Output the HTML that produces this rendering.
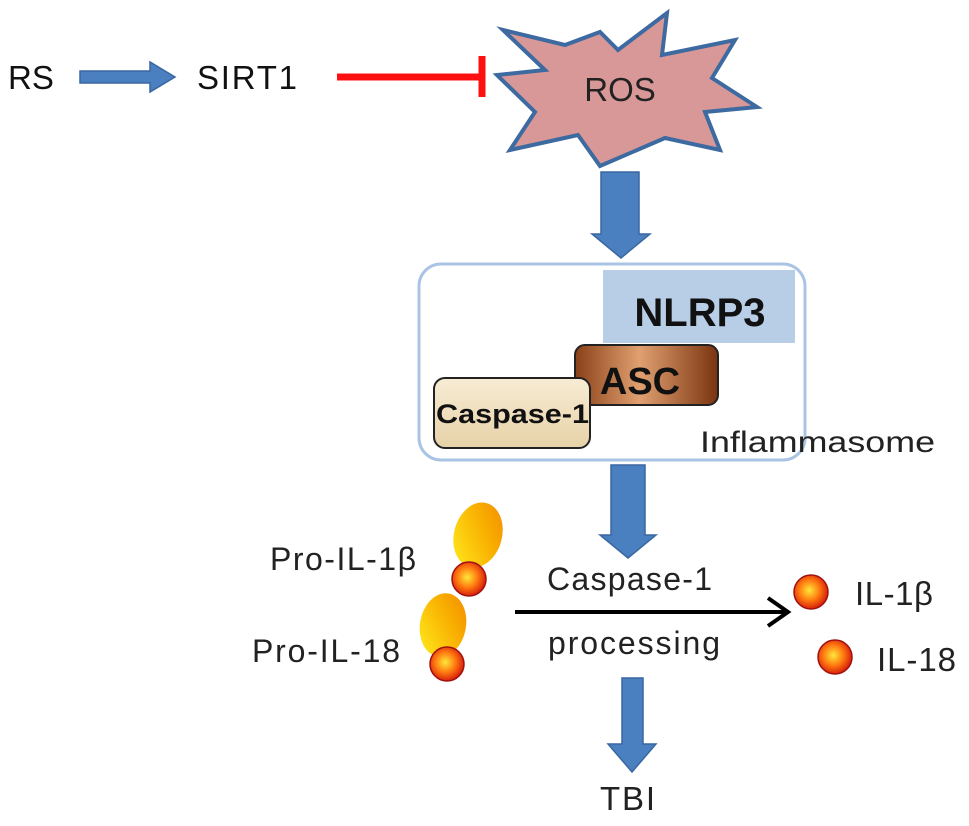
<!DOCTYPE html>
<html><head><meta charset="utf-8"><style>
html,body{margin:0;padding:0;background:#fff;}
svg{display:block;font-family:"Liberation Sans",sans-serif;}
</style></head><body>
<svg width="969" height="826" viewBox="0 0 969 826" xmlns="http://www.w3.org/2000/svg">
<defs>
<radialGradient id="ball" cx="0.45" cy="0.45" r="0.6">
<stop offset="0" stop-color="#ffe83a"/><stop offset="0.5" stop-color="#ff7a10"/><stop offset="1" stop-color="#d0100a"/>
</radialGradient>
<linearGradient id="egg" x1="0" y1="1" x2="1" y2="0">
<stop offset="0" stop-color="#ffee20"/><stop offset="0.6" stop-color="#f9b000"/><stop offset="1" stop-color="#f08a00"/>
</linearGradient>
<linearGradient id="asc" x1="0" y1="0" x2="1" y2="0">
<stop offset="0" stop-color="#8a4018"/><stop offset="0.45" stop-color="#e0a070"/><stop offset="1" stop-color="#7a3410"/>
</linearGradient>
<linearGradient id="casp" x1="0" y1="0" x2="0" y2="1">
<stop offset="0" stop-color="#f7ecd4"/><stop offset="1" stop-color="#e7d2a8"/>
</linearGradient>
</defs>
<text x="8" y="89" font-size="33" fill="#111">RS</text>
<polygon points="80,71 150,71 150,62 175,77 150,92 150,83 80,83" fill="#4a7fc0" stroke="#3a67a0" stroke-width="1.5"/>
<text x="197" y="89" font-size="33" fill="#111" textLength="100">SIRT1</text>
<line x1="337" y1="77" x2="480" y2="77" stroke="#ff1010" stroke-width="7"/>
<line x1="482" y1="56" x2="482" y2="97" stroke="#ff1010" stroke-width="7"/>
<polygon points="503,30 565,45 600,32 618,50 667,13 662,55 735,40 712,78 757,107 705,112 720,150 665,138 600,166 578,135 510,150 535,112 497,75 545,70" fill="#d99898" stroke="#3d6aa0" stroke-width="4" stroke-linejoin="miter"/>
<text x="620" y="101" font-size="33" fill="#222" text-anchor="middle">ROS</text>
<polygon points="601,172 639,172 639,234 650,234 621,258 592,234 601,234" fill="#4a7fc0" stroke="#3a67a0" stroke-width="1.5"/>
<rect x="419" y="264" width="386" height="196" rx="22" fill="#fff" stroke="#a9c4e4" stroke-width="3"/>
<rect x="603" y="270" width="192" height="73" fill="#b8cde6"/>
<text x="700" y="326" font-size="40" font-weight="bold" fill="#111" text-anchor="middle">NLRP3</text>
<rect x="575" y="345" width="143" height="60" rx="10" fill="url(#asc)" stroke="#222" stroke-width="2"/>
<text x="640" y="394" font-size="38" font-weight="bold" fill="#111" text-anchor="middle">ASC</text>
<rect x="434" y="378" width="156" height="70" rx="11" fill="url(#casp)" stroke="#222" stroke-width="2"/>
<text x="436" y="423" font-size="27" font-weight="bold" fill="#111" textLength="153" lengthAdjust="spacingAndGlyphs">Caspase-1</text>
<text x="700" y="452" font-size="30" fill="#222" textLength="235" lengthAdjust="spacingAndGlyphs">Inflammasome</text>
<polygon points="611,465 645,465 645,535 656,535 628,558 600,535 611,535" fill="#4a7fc0" stroke="#3a67a0" stroke-width="1.5"/>
<text x="270" y="570" font-size="32" fill="#222" textLength="146">Pro-IL-1β</text>
<ellipse cx="478" cy="535" rx="24" ry="33" transform="rotate(15 478 535)" fill="url(#egg)"/>
<circle cx="469" cy="579" r="17" fill="url(#ball)" stroke="#a01010" stroke-width="1.5"/>
<text x="252" y="662" font-size="32" fill="#222" textLength="148">Pro-IL-18</text>
<ellipse cx="443" cy="625" rx="23" ry="32" transform="rotate(10 443 625)" fill="url(#egg)"/>
<circle cx="447" cy="664" r="17" fill="url(#ball)" stroke="#a01010" stroke-width="1.5"/>
<text x="547" y="590" font-size="32" fill="#222" textLength="165">Caspase-1</text>
<line x1="515" y1="612" x2="786" y2="612" stroke="#000" stroke-width="4"/>
<polyline points="768,598 788,612 768,626" fill="none" stroke="#000" stroke-width="4"/>
<text x="548" y="654" font-size="32" fill="#222" textLength="172">processing</text>
<circle cx="811" cy="592" r="17" fill="url(#ball)" stroke="#a01010" stroke-width="1.5"/>
<text x="855" y="605" font-size="33" fill="#222" textLength="78">IL-1β</text>
<circle cx="835" cy="657" r="17" fill="url(#ball)" stroke="#a01010" stroke-width="1.5"/>
<text x="877" y="671" font-size="33" fill="#222" textLength="79">IL-18</text>
<polygon points="622,678 643,678 643,744 656,744 632,772 608,744 622,744" fill="#4a7fc0" stroke="#3a67a0" stroke-width="1.5"/>
<text x="600" y="810" font-size="33" fill="#222" textLength="55">TBI</text>
</svg>
</body></html>
